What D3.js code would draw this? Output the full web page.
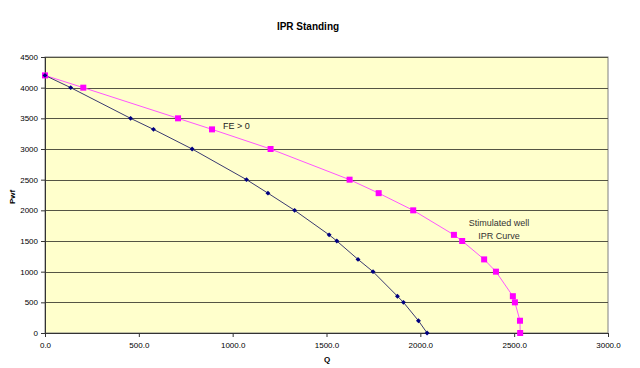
<!DOCTYPE html>
<html>
<head>
<meta charset="utf-8">
<script src="https://cdn.jsdelivr.net/npm/d3@7"></script>
<style>
  body { margin: 0; background: #fff; }
  text { font-family: "Liberation Sans", Arial, sans-serif; }
</style>
</head>
<body>
<div id="chart"></div>
<script>
// pressure levels shared by both curves
var pwf = [4200, 4000, 3500, 3320, 3000, 2500, 2280, 2000, 1600, 1500, 1200, 1000, 600, 500, 200, 0];
// rates
var qBase = [0, 137, 456, 578, 784, 1074, 1188, 1330, 1514, 1555, 1668, 1748, 1878, 1910, 1990, 2036];
var qStim = [0, 204, 709, 890, 1202, 1623, 1778, 1962, 2179, 2223, 2340, 2403, 2493, 2504, 2531, 2532];
var xTicks = [0, 500, 1000, 1500, 2000, 2500, 3000];
var yTicks = [0, 500, 1000, 1500, 2000, 2500, 3000, 3500, 4000, 4500];

var width = 640, height = 368;
var margin = {top: 57, right: 32, bottom: 35, left: 45};

var svg = d3.select("#chart").append("svg")
    .attr("width", width)
    .attr("height", height);

var x = d3.scaleLinear().domain([0, 3000]).range([margin.left, width - margin.right]);
var y = d3.scaleLinear().domain([0, 4500]).range([height - margin.bottom, margin.top]);

// plot area
svg.append("rect")
    .attr("x", x(0)).attr("y", y(4500))
    .attr("width", x(3000) - x(0)).attr("height", y(0) - y(4500))
    .attr("fill", "#ffffcc")
    .attr("stroke", "#808080")
    .attr("stroke-width", 1);

// horizontal gridlines
svg.append("g")
    .selectAll("line")
    .data(yTicks.filter(function(d){ return d > 0; }))
    .join("line")
        .attr("x1", x(0)).attr("x2", x(3000))
        .attr("y1", function(d){ return Math.round(y(d)) + 0.5; })
        .attr("y2", function(d){ return Math.round(y(d)) + 0.5; })
        .attr("stroke", "#555544")
        .attr("stroke-width", 1);

// axes
var xAxis = svg.append("g")
    .attr("transform", "translate(0," + y(0) + ")")
    .call(d3.axisBottom(x).tickValues(xTicks).tickFormat(d3.format(".1f")).tickSize(4).tickPadding(5));
var yAxis = svg.append("g")
    .attr("transform", "translate(" + x(0) + ",0)")
    .call(d3.axisLeft(y).tickValues(yTicks).tickFormat(d3.format("d")).tickSize(4).tickPadding(3));

[xAxis, yAxis].forEach(function(a){
    a.select(".domain").attr("stroke", "#333");
    a.selectAll(".tick line").attr("stroke", "#333");
    a.selectAll("text").attr("font-size", 8).attr("fill", "#000")
        .attr("font-family", "Liberation Sans, Arial, sans-serif");
});

// series
var line = d3.line()
    .x(function(d){ return x(d[0]); })
    .y(function(d){ return y(d[1]); });

var base = qBase.map(function(q, i){ return [q, pwf[i]]; });
var stim = qStim.map(function(q, i){ return [q, pwf[i]]; });

svg.append("path")
    .datum(stim)
    .attr("d", line)
    .attr("fill", "none")
    .attr("stroke", "#ff55ff")
    .attr("stroke-width", 1);

svg.append("path")
    .datum(base)
    .attr("d", line)
    .attr("fill", "none")
    .attr("stroke", "#3a3a70")
    .attr("stroke-width", 1);

svg.append("g")
    .selectAll("rect")
    .data(stim)
    .join("rect")
        .attr("x", function(d){ return x(d[0]) - 3; })
        .attr("y", function(d){ return y(d[1]) - 3; })
        .attr("width", 6).attr("height", 6)
        .attr("fill", "#ff00ff");

svg.append("g")
    .selectAll("path")
    .data(base)
    .join("path")
        .attr("d", d3.symbol().type(d3.symbolSquare).size(12))
        .attr("transform", function(d){ return "translate(" + x(d[0]) + "," + y(d[1]) + ") rotate(45)"; })
        .attr("fill", "#000080");

// titles
svg.append("text")
    .attr("x", 308).attr("y", 30)
    .attr("text-anchor", "middle")
    .attr("font-size", 10).attr("font-weight", "bold")
    .text("IPR Standing");

svg.append("text")
    .attr("x", 327).attr("y", 362)
    .attr("text-anchor", "middle")
    .attr("font-size", 8).attr("font-weight", "bold")
    .text("Q");

svg.append("text")
    .attr("transform", "translate(15,197) rotate(-90)")
    .attr("text-anchor", "middle")
    .attr("font-size", 8).attr("font-weight", "bold")
    .text("Pwf");

// annotations
svg.append("text")
    .attr("x", 223).attr("y", 129)
    .attr("font-size", 9).attr("fill", "#222")
    .text("FE > 0");

svg.append("text")
    .attr("x", 499).attr("y", 226)
    .attr("text-anchor", "middle")
    .attr("font-size", 9).attr("fill", "#333")
    .text("Stimulated well");

svg.append("text")
    .attr("x", 499).attr("y", 239)
    .attr("text-anchor", "middle")
    .attr("font-size", 9).attr("fill", "#333")
    .text("IPR Curve");
</script>
</body>
</html>
